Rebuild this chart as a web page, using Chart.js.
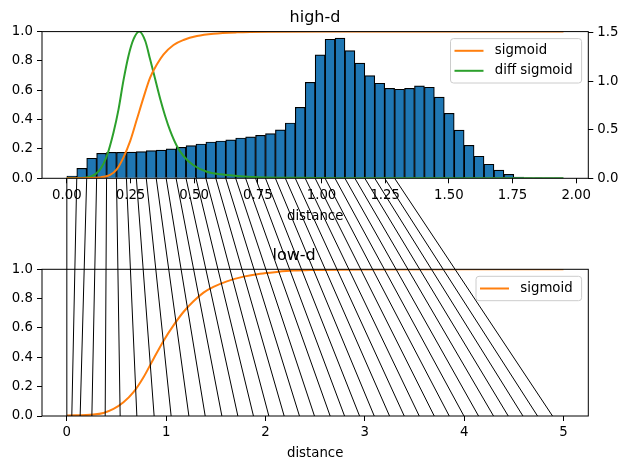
<!DOCTYPE html>
<html>
<head>
<meta charset="utf-8">
<script src="https://cdn.jsdelivr.net/npm/chart.js@4.4.0/dist/chart.umd.min.js"></script>
<style>
  body { margin: 0; background: #fff; }
  #wrap { position: relative; width: 630px; height: 469px; }
  #wrap canvas { position: absolute; left: 0; top: 0; }
</style>
</head>
<body>
<div id="wrap">
  <canvas id="lowCanvas" width="630" height="469"></canvas>
  <canvas id="highCanvas" width="630" height="469"></canvas>
</div>
<script>
// histogram bin edges (high-d distance)
const binEdges = [0.000, 0.039, 0.078, 0.117, 0.156, 0.195, 0.234, 0.273, 0.312, 0.351,
  0.390, 0.429, 0.468, 0.507, 0.546, 0.585, 0.624, 0.663, 0.702, 0.741,
  0.780, 0.819, 0.858, 0.897, 0.936, 0.975, 1.014, 1.053, 1.092, 1.131,
  1.170, 1.209, 1.248, 1.287, 1.326, 1.365, 1.404, 1.443, 1.482, 1.521,
  1.560, 1.599, 1.638, 1.677, 1.716, 1.755, 1.794, 1.833, 1.872, 1.911, 1.950];

// density per bin (right axis)
const density = [0.024, 0.103, 0.207, 0.258, 0.268, 0.268, 0.270, 0.275, 0.285, 0.292,
  0.303, 0.320, 0.337, 0.354, 0.375, 0.385, 0.396, 0.416, 0.427, 0.444,
  0.461, 0.499, 0.571, 0.733, 0.991, 1.273, 1.435, 1.446, 1.318, 1.188,
  1.060, 0.981, 0.929, 0.919, 0.929, 0.955, 0.940, 0.837, 0.671, 0.497,
  0.341, 0.228, 0.145, 0.084, 0.041, 0.013, 0.004, 0.002, 0.001, 0.0005];

// high-d sigmoid
const highSigX = [0, 0.05, 0.092, 0.131, 0.144, 0.170, 0.196, 0.222, 0.249, 0.275, 0.301, 0.327,
  0.354, 0.380, 0.419, 0.458, 0.511, 0.576, 0.668, 0.80, 1.0, 1.5, 1.95];
const highSigY = [0, 0.0005, 0.002, 0.006, 0.010, 0.023, 0.061, 0.141, 0.255, 0.402, 0.550, 0.686,
  0.777, 0.845, 0.909, 0.943, 0.970, 0.986, 0.995, 0.999, 1.0, 1.0, 1.0];

// derivative of the sigmoid (scaled)
const diffSigX = [0, 0.05, 0.092, 0.131, 0.157, 0.183, 0.203, 0.222, 0.242, 0.262, 0.284, 0.308,
  0.327, 0.347, 0.367, 0.386, 0.406, 0.432, 0.458, 0.497, 0.550, 0.602, 0.668, 0.75, 0.9, 1.1, 1.5, 1.95];
const diffSigY = [0, 0.002, 0.011, 0.061, 0.152, 0.311, 0.470, 0.664, 0.834, 0.948, 1.0, 0.936,
  0.811, 0.675, 0.539, 0.425, 0.323, 0.220, 0.152, 0.089, 0.045, 0.027, 0.016, 0.008, 0.003, 0.001, 0, 0];

// low-d sigmoid
const lowSigX = [0, 0.268, 0.369, 0.47, 0.57, 0.671, 0.772, 0.872, 0.973, 1.074, 1.174, 1.275,
  1.376, 1.476, 1.611, 1.779, 1.947, 2.115, 2.282, 2.45, 3.0, 4.0, 5.0];
const lowSigY = [0.003, 0.010, 0.021, 0.048, 0.093, 0.162, 0.264, 0.389, 0.512, 0.618, 0.709, 0.782,
  0.841, 0.880, 0.918, 0.950, 0.970, 0.982, 0.991, 0.995, 0.999, 1.0, 1.0];

// low-d distance matched to the first 34 bin edges
const lowD = [0, 0.050, 0.134, 0.252, 0.386, 0.537, 0.705, 0.879, 1.050, 1.229,
  1.393, 1.561, 1.722, 1.879, 2.034, 2.188, 2.342, 2.493, 2.651, 2.796,
  2.947, 3.095, 3.249, 3.397, 3.548, 3.699, 3.850, 3.998, 4.145, 4.296,
  4.444, 4.592, 4.739, 4.890];

// tick labels
const highXTicks = [0, 0.25, 0.5, 0.75, 1.0, 1.25, 1.5, 1.75, 2.0];
const unitTicks = [0, 0.2, 0.4, 0.6, 0.8, 1.0];
const densityTicks = [0, 0.5, 1.0, 1.5];
const lowXTicks = [0, 1, 2, 3, 4, 5];

const FONT = 'DejaVu Sans';
Chart.defaults.font.family = FONT;
Chart.defaults.font.size = 13.3;
Chart.defaults.color = '#000';

const ORANGE = '#ff7f0e', GREEN = '#2ca02c', BLUE = '#1f77b4';

function pts(xs, ys) { return xs.map((x, i) => ({ x: x, y: ys[i] })); }

function axis(min, max, ticks, fmt, size, extra) {
  return Object.assign({
    type: 'linear', min: min, max: max, offset: false,
    afterBuildTicks: s => { s.ticks = ticks.map(v => ({ value: v })); },
    afterFit: s => { if (s.isHorizontal()) s.height = size; else s.width = size; },
    ticks: { callback: v => fmt(v), autoSkip: false, maxRotation: 0, padding: 4, color: '#000' },
    grid: { drawOnChartArea: false, drawTicks: true, tickLength: 5, color: '#000', offset: false },
    border: { display: false }
  }, extra || {});
}

const framePlugin = {
  id: 'frame',
  afterDatasetsDraw(chart) {
    const a = chart.chartArea, c = chart.ctx;
    c.save();
    c.strokeStyle = '#000';
    c.lineWidth = 1;
    c.strokeRect(a.left, a.top, a.right - a.left, a.bottom - a.top);
    c.restore();
  }
};

const boxLegend = {
  id: 'boxLegend',
  afterDraw(chart) {
    const items = chart.data.datasets.filter(d => d.type === 'line' || chart.config.type === 'line');
    const a = chart.chartArea, c = chart.ctx;
    c.save();
    c.font = '13.3px "' + FONT + '"';
    const tw = Math.max(...items.map(it => c.measureText(it.label).width));
    const w = 44.3 + tw + 9, h = 24.4 + (items.length - 1) * 20;
    const x = a.right - 6.7 - w, y = a.top + 7;
    c.fillStyle = 'rgba(255,255,255,0.8)';
    c.strokeStyle = '#cccccc';
    c.lineWidth = 1;
    c.beginPath();
    c.roundRect(x, y, w, h, 3);
    c.fill();
    c.stroke();
    items.forEach((it, i) => {
      const cy = y + 12.2 + i * 20;
      c.strokeStyle = it.borderColor;
      c.lineWidth = 2;
      c.beginPath();
      c.moveTo(x + 4, cy);
      c.lineTo(x + 33, cy);
      c.stroke();
      c.fillStyle = '#000';
      c.textBaseline = 'middle';
      c.textAlign = 'left';
      c.fillText(it.label, x + 44.3, cy);
    });
    c.restore();
  }
};

const titleOpts = text => ({
  display: true, text: text, color: '#000',
  font: { size: 16, weight: 'normal' }, padding: { top: 8.3, bottom: 4.1 }
});
const xTitle = pad => ({ display: true, text: 'distance', color: '#000', font: { size: 13.3 }, padding: { top: 0, bottom: pad } });

// lower panel (low-d)
const lowChart = new Chart(document.getElementById('lowCanvas'), {
  type: 'line',
  data: {
    datasets: [{
      label: 'sigmoid', data: pts(lowSigX, lowSigY),
      borderColor: ORANGE, borderWidth: 2, pointRadius: 0,
      cubicInterpolationMode: 'monotone', fill: false
    }]
  },
  options: {
    responsive: false, animation: false, events: [],
    layout: { padding: { top: 237.7, right: 41.7, left: 0, bottom: 0 } },
    plugins: { legend: { display: false }, tooltip: { enabled: false }, title: titleOpts('low-d') },
    scales: {
      x: axis(-0.25, 5.25, lowXTicks, v => String(v), 53, { title: xTitle(7) }),
      y: axis(0, 1, unitTicks, v => v.toFixed(1), 42)
    }
  },
  plugins: [framePlugin, boxLegend]
});

// lines joining high-d bin edges to low-d distances
const connectors = {
  id: 'connectors',
  afterDraw(chart) {
    const c = chart.ctx;
    const y0 = chart.scales.y.getPixelForValue(0);
    const y1 = lowChart.scales.y.getPixelForValue(0);
    c.save();
    c.strokeStyle = '#000';
    c.lineWidth = 1;
    lowD.forEach((d, i) => {
      c.beginPath();
      c.moveTo(chart.scales.x.getPixelForValue(binEdges[i]), y0);
      c.lineTo(lowChart.scales.x.getPixelForValue(d), y1);
      c.stroke();
    });
    c.restore();
  }
};

// upper panel (high-d)
new Chart(document.getElementById('highCanvas'), {
  type: 'bar',
  data: {
    datasets: [
      {
        type: 'line', label: 'sigmoid', data: pts(highSigX, highSigY), yAxisID: 'y',
        borderColor: ORANGE, borderWidth: 2, pointRadius: 0,
        cubicInterpolationMode: 'monotone', fill: false, order: 1
      },
      {
        type: 'line', label: 'diff sigmoid', data: pts(diffSigX, diffSigY), yAxisID: 'y',
        borderColor: GREEN, borderWidth: 2, pointRadius: 0,
        cubicInterpolationMode: 'monotone', fill: false, order: 1
      },
      {
        type: 'bar', label: 'hist', yAxisID: 'y2',
        data: density.map((v, i) => ({ x: (binEdges[i] + binEdges[i + 1]) / 2, y: v })),
        backgroundColor: BLUE, borderColor: '#000', borderWidth: 1.2,
        barPercentage: 1, categoryPercentage: 1, order: 2
      }
    ]
  },
  options: {
    responsive: false, animation: false, events: [],
    layout: { padding: { top: 0, right: 0, left: 0, bottom: 239 } },
    plugins: { legend: { display: false }, tooltip: { enabled: false }, title: titleOpts('high-d') },
    scales: {
      x: axis(-0.0975, 2.0475, highXTicks, v => v.toFixed(2), 51.7, { title: xTitle(5.5) }),
      y: axis(0, 1, unitTicks, v => v.toFixed(1), 42, { position: 'left' }),
      y2: axis(0, 1.514, densityTicks, v => v.toFixed(1), 41.7, { position: 'right' })
    }
  },
  plugins: [framePlugin, boxLegend, connectors]
});
</script>
</body>
</html>
